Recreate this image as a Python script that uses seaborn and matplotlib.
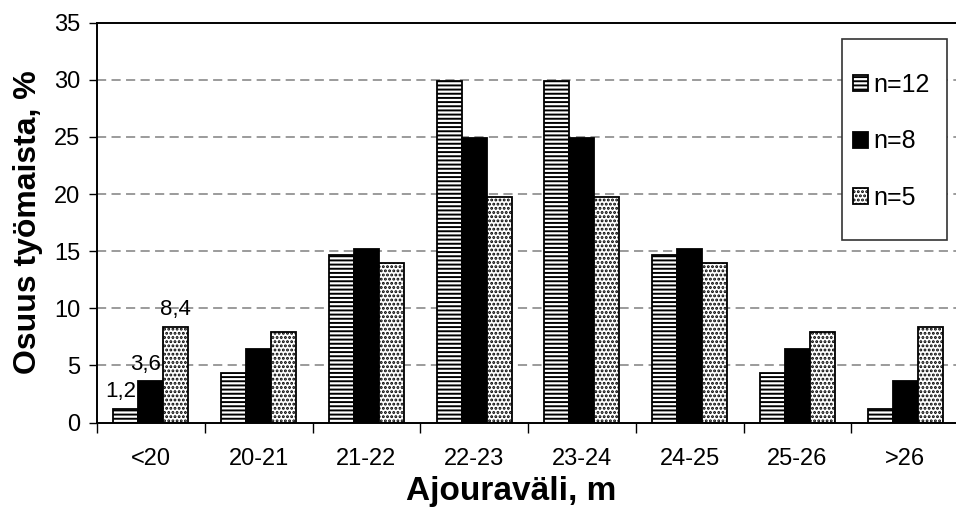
import matplotlib
matplotlib.use("Agg")
import matplotlib.pyplot as plt
from matplotlib.patches import Rectangle
import numpy as np
import pandas as pd
import seaborn as sns

# Ajouravälin jakauma eri otoskoilla
categories = ["<20", "20-21", "21-22", "22-23", "23-24", "24-25", "25-26", ">26"]
n12 = [1.2, 4.3, 14.7, 29.9, 29.9, 14.7, 4.3, 1.2]
n8 = [3.6, 6.4, 15.2, 24.9, 24.9, 15.2, 6.4, 3.6]
n5 = [8.4, 7.9, 14.0, 19.7, 19.7, 14.0, 7.9, 8.4]
series_names = ["n=12", "n=8", "n=5"]
labelled_values = [n12[0], n8[0], n5[0]]

sns.set_theme(style="white")
plt.rcParams["font.family"] = ["Liberation Sans", "DejaVu Sans"]
plt.rcParams["hatch.linewidth"] = 1.4
plt.rcParams["hatch.color"] = "black"
for key in ["text.color", "axes.labelcolor", "xtick.color", "ytick.color"]:
    plt.rcParams[key] = "black"

df = pd.DataFrame({
    "Ajouraväli": categories * 3,
    "Osuus": n12 + n8 + n5,
    "Sarja": [s for s in series_names for _ in categories],
})

fig = plt.figure(figsize=(9.56, 5.16), dpi=100)
ax = fig.add_axes([97 / 956, (516 - 422.6) / 516, 862 / 956, 400 / 516])

sns.barplot(data=df, x="Ajouraväli", y="Osuus", hue="Sarja",
            order=categories, hue_order=series_names,
            palette=["white", "black", "white"], width=0.695, gap=0,
            edgecolor="black", linewidth=1.3, saturation=1,
            legend=False, ax=ax)

hatches = ["----", None, "...."]
ncat = len(categories)
for i, patch in enumerate(ax.patches[: ncat * 3]):
    h = hatches[i // ncat]
    if h:
        patch.set_hatch(h)

# Arvotunnukset ensimmäiselle luokalle
for j, val in enumerate(labelled_values):
    p = ax.patches[j * ncat]
    ax.annotate(f"{val:.1f}".replace(".", ","),
                (p.get_x() + p.get_width() / 2, p.get_height()),
                xytext=(-4 if j < 2 else 0, 5), textcoords="offset points",
                ha="center", va="bottom", fontsize=16, color="black")

ax.set_ylim(0, 35)
ax.set_xlim(-0.5, ncat - 0.5)
ax.set_yticks(np.arange(0, 36, 5))
ax.tick_params(axis="y", direction="out", length=6, width=1, color="black",
               labelsize=17, pad=6, left=True)
ax.set_xticks(np.arange(-0.5, ncat, 1.0))
ax.set_xticklabels([])
ax.set_xticks(np.arange(ncat), minor=True)
ax.set_xticklabels(categories, minor=True)
ax.tick_params(axis="x", which="major", direction="out", length=7, width=1,
               color="black", bottom=True)
ax.tick_params(axis="x", which="minor", length=0, labelsize=17, pad=18)

for y in range(5, 35, 5):
    ax.axhline(y, color="#808080", linewidth=1.1, linestyle=(0, (6, 3.5)), zorder=0)

for side in ["left", "bottom", "top"]:
    ax.spines[side].set_visible(True)
    ax.spines[side].set_color("black")
    ax.spines[side].set_linewidth(1.4)
ax.spines["right"].set_visible(False)

ax.set_xlabel("Ajouraväli, m", fontsize=24, fontweight="bold")
ax.xaxis.set_label_coords((511 - 97) / 862, (422.6 - 476) / 400)
ax.xaxis.label.set_va("top")
ax.set_ylabel("Osuus työmaista, %", fontsize=23, fontweight="bold", labelpad=8)

# Selite kehyksineen
box = Rectangle(((842 - 97) / 862, (422.6 - 240) / 400), 105 / 862, 201 / 400,
                transform=ax.transAxes, facecolor="white", edgecolor="#333333",
                linewidth=1.2, zorder=5)
ax.add_patch(box)
handles = [ax.patches[k * ncat] for k in range(3)]
leg = ax.legend(handles, series_names, frameon=False, fontsize=18,
                loc="upper left", bbox_to_anchor=((853 - 97) / 862, (422.6 - 73) / 400),
                handlelength=0.6, handleheight=0.6, handletextpad=0.2,
                labelspacing=1.3, borderpad=0, borderaxespad=0, labelcolor="black")
leg.set_zorder(6)

fig.savefig("out.png", dpi=100)
